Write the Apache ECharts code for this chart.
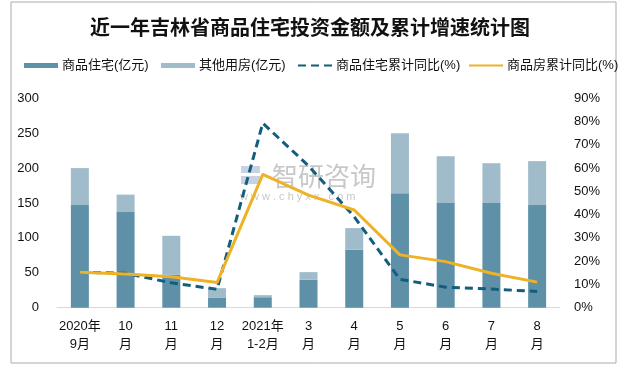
<!DOCTYPE html>
<html><head><meta charset="utf-8">
<script src="https://cdn.jsdelivr.net/npm/echarts@6/dist/echarts.min.js"></script>
<style>html,body{margin:0;padding:0;background:#fff}#c{width:620px;height:367px}</style>
</head><body><div id="c"></div>
<script>
var categories = ['2020年\n9月','10\n月','11\n月','12\n月','2021年\n1-2月','3\n月','4\n月','5\n月','6\n月','7\n月','8\n月'];
var residential = [147, 137, 47, 14, 15, 40, 83, 164, 150, 150, 147];
var otherUse = [53, 25, 56, 14, 3, 11, 31, 86, 67, 57, 63];
var residentialYoY = [15.2, 14.8, 10.7, 7.9, 79.3, 61.0, 39.1, 12.2, 8.8, 8.0, 7.0];
var housingYoY = [15.2, 14.5, 13.3, 10.8, 57.3, 48.4, 42.0, 22.7, 19.8, 14.8, 11.0];
var leftTicks = {min:0, max:300, interval:50};
var rightTicks = {min:0, max:90, interval:10};

var FONT = '"Liberation Sans","Noto Sans CJK SC",sans-serif';
var C_DARK = '#5E91A8', C_LIGHT = '#A0BCCB', C_DASH = '#135E7E', C_YEL = '#EEB226';
var chart = echarts.init(document.getElementById('c'), null, {renderer:'canvas'});
function lg(name, left, icon, h, hideSym){
  var d = {name:name};
  if (icon) d.icon = icon;
  if (hideSym) d.itemStyle = {opacity:0};
  return {data:[d], left:left, top:54, itemWidth:34, itemHeight:h, itemGap:0,
    textStyle:{fontFamily:FONT, fontSize:13, color:'#111', padding:[0,0,0,-1]}};
}
chart.setOption({
  animation:false,
  backgroundColor:'#fff',
  title:{text:'近一年吉林省商品住宅投资金额及累计增速统计图', left:'center', top:12,
    textStyle:{fontFamily:'"Noto Sans CJK SC",sans-serif', fontSize:20, fontWeight:'bold', color:'#111'}},
  legend:[
    lg('商品住宅(亿元)', 19, 'rect', 5, false),
    lg('其他用房(亿元)', 156, 'rect', 5, false),
    lg('商品住宅累计同比(%)', 292, null, 5, true),
    lg('商品房累计同比(%)', 463, null, 5, true)
  ],
  graphic:[
    {type:'rect', shape:{x:11, y:2, width:605, height:361}, style:{fill:'none', stroke:'#aaaaaa', lineWidth:1}, z:-10},
    {type:'rect', shape:{x:241, y:166, width:19, height:7}, style:{fill:'#c9d2e3'}, z:-5},
    {type:'rect', shape:{x:241, y:176, width:19, height:8}, style:{fill:'#c9d2e3'}, z:-5},
    {type:'text', left:272, top:163, style:{text:'智研咨询', font:'26px "Noto Sans CJK SC"', fill:'#c8c8c8'}, z:-5},
    {type:'text', left:240, top:191, style:{text:'w w w . c h y x x . c o m', font:'11px "Liberation Sans"', fill:'#c8c8c8'}, z:-5}
  ],
  grid:{left:57, right:60, top:98.3, bottom:59.3, containLabel:false},
  xAxis:{type:'category', data:categories,
    axisLine:{lineStyle:{color:'#d9d9d9', width:1}}, axisTick:{show:false},
    axisLabel:{fontFamily:FONT, fontSize:13, color:'#111', lineHeight:18, margin:10, interval:0}},
  yAxis:[
    {type:'value', min:leftTicks.min, max:leftTicks.max, interval:leftTicks.interval,
     splitLine:{show:false}, axisLine:{show:false}, axisTick:{show:false},
     axisLabel:{fontFamily:FONT, fontSize:13, color:'#111', margin:18}},
    {type:'value', min:rightTicks.min, max:rightTicks.max, interval:rightTicks.interval,
     splitLine:{show:false}, axisLine:{show:false}, axisTick:{show:false},
     axisLabel:{fontFamily:FONT, fontSize:13, color:'#111', margin:14, formatter:'{value}%'}}
  ],
  series:[
    {name:'商品住宅(亿元)', type:'bar', stack:'a', data:residential, barWidth:18, itemStyle:{color:C_DARK}},
    {name:'其他用房(亿元)', type:'bar', stack:'a', data:otherUse, barWidth:18, itemStyle:{color:C_LIGHT}},
    {name:'商品住宅累计同比(%)', type:'line', yAxisIndex:1, data:residentialYoY, symbol:'none',
     lineStyle:{color:C_DASH, width:3, type:[8,5]}, itemStyle:{color:C_DASH}, z:4},
    {name:'商品房累计同比(%)', type:'line', yAxisIndex:1, data:housingYoY, symbol:'none',
     lineStyle:{color:C_YEL, width:3}, itemStyle:{color:C_YEL}, z:5}
  ]
});
</script></body></html>
